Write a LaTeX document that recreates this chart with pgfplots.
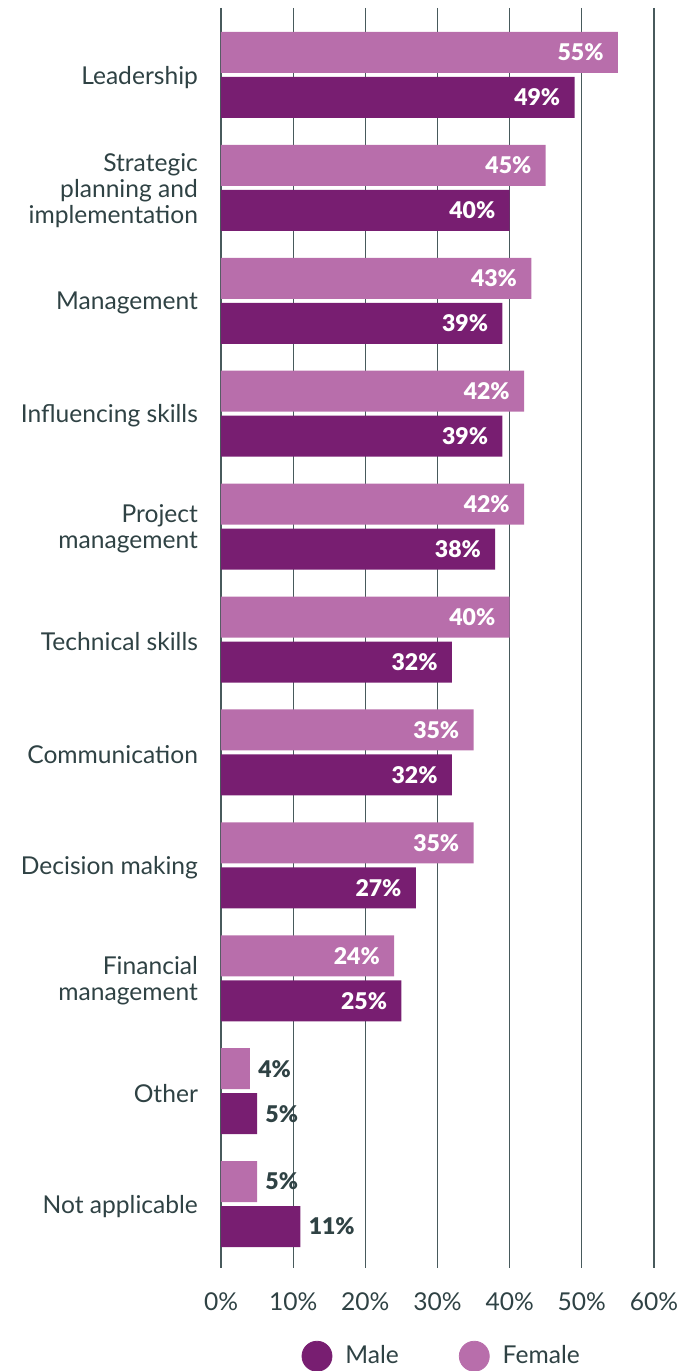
\documentclass[border=0pt]{standalone}
\usepackage{fontspec}
\setmainfont{Lato}
\newfontfamily\latoblack{Lato Black}
\usepackage{pgfplots}
\pgfplotsset{compat=1.18}
\definecolor{malec}{HTML}{781E71}
\definecolor{femc}{HTML}{B86EAB}
\definecolor{txt}{HTML}{2F4244}
\definecolor{gridc}{HTML}{485A5C}

\pgfplotsset{
  lblin/.style={nodes near coords={\pgfmathprintnumber{\pgfplotspointmeta}\%},
    point meta=x,
    every node near coord/.append style={anchor=east, inner sep=0pt, xshift=-7pt, text=white,
      font=\fontsize{11.5}{13}\selectfont\latoblack}},
  lblout/.style={nodes near coords={\pgfmathprintnumber{\pgfplotspointmeta}\%},
    point meta=x,
    every node near coord/.append style={anchor=west, inner sep=0pt, xshift=4pt, text=txt,
      font=\fontsize{11.5}{13}\selectfont\latoblack}},
}

\begin{document}
\begin{tikzpicture}
\begin{axis}[
  at={(0,0)}, anchor=south west,
  scale only axis, width=216.5pt, height=630pt,
  xmin=0, xmax=60, xtick={0,10,...,60},
  xticklabel={\pgfmathprintnumber{\tick}\%},
  ymin=-0.593, ymax=10.566, y dir=reverse,
  ytick={0,...,10},
  yticklabels={Leadership,{Strategic\\planning and\\implementation},Management,Influencing skills,{Project\\management},Technical skills,Communication,Decision making,{Financial\\management},Other,Not applicable},
  xbar, bar width=20.5pt,
  axis line style={draw=none},
  major tick length=0pt,
  xmajorgrids, major grid style={gridc, line width=0.6pt},
  tick label style={font=\fontsize{12.3}{13}\selectfont, text=txt},
  yticklabel style={align=right, xshift=-8pt, yshift=-1.2pt},
  xticklabel style={yshift=-9pt},
  /pgf/number format/assume math mode=true,
  clip=false,
  legend style={at={(0.512,-0.07)}, anchor=center, draw=none, fill=none,
    legend columns=2, font=\fontsize{12.3}{13}\selectfont, text=txt,
    /tikz/every even column/.append style={column sep=28pt}},
  legend cell align=left,
]
% female
\addplot[fill=femc, draw=none, bar shift=11.25pt, lblin, forget plot] coordinates {
(55,0) (45,1) (43,2) (42,3) (42,4) (40,5) (35,6) (35,7) (24,8)};
\addplot[fill=femc, draw=none, bar shift=11.25pt, lblout, forget plot] coordinates {
(4,9) (5,10)};
% male
\addplot[fill=malec, draw=none, bar shift=-11.25pt, lblin, forget plot] coordinates {
(49,0) (40,1) (39,2) (39,3) (38,4) (32,5) (32,6) (27,7) (25,8)};
\addplot[fill=malec, draw=none, bar shift=-11.25pt, lblout, forget plot] coordinates {
(5,9) (11,10)};
\addlegendimage{legend image code/.code={\fill[malec] (0pt,0pt) circle (7.5pt); \path (12pt,0pt);}}
\addlegendentry{Male}
\addlegendimage{legend image code/.code={\fill[femc] (0pt,0pt) circle (7.5pt); \path (12pt,0pt);}}
\addlegendentry{Female}
\end{axis}
\pgfresetboundingbox
\path[use as bounding box] (-110.5pt,-51.5pt) rectangle (235.5pt,634pt);
\end{tikzpicture}
\end{document}
